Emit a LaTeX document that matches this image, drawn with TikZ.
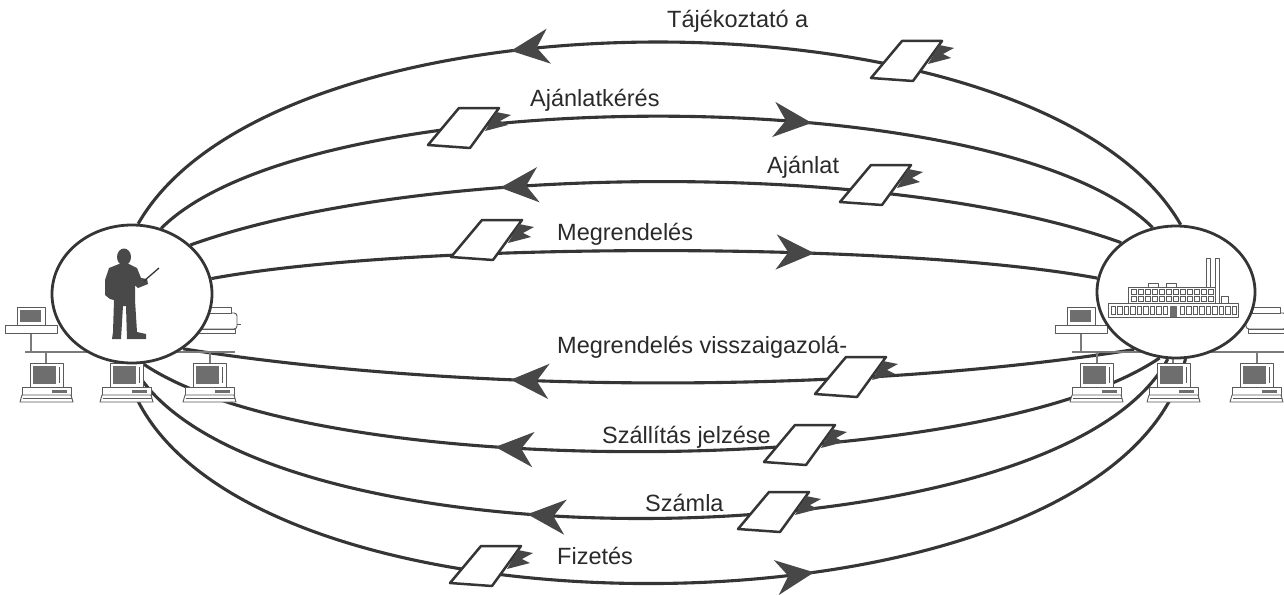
\documentclass[tikz,border=0pt]{standalone}
\usepackage{fontspec}
\setmainfont{Liberation Sans}
\usetikzlibrary{arrows.meta,decorations.markings,shapes.geometric}
\definecolor{ink}{HTML}{353535}
\definecolor{tipgray}{HTML}{474747}
\definecolor{scr}{HTML}{6E6E6E}
\definecolor{dev}{HTML}{5A5A5A}
\definecolor{txt}{HTML}{2A2A2A}
\pgfdeclarelayer{paper}
\pgfdeclarelayer{curves}
\pgfdeclarelayer{desks}
\pgfsetlayers{paper,curves,desks,main}

\tikzset{
  flow/.style={draw=ink, line width=3.1pt},
  tipback/.style={postaction=decorate, decoration={markings, mark=at position #1 with {\arrowreversed{Stealth[length=38pt,width=35pt,inset=12pt,color=tipgray,fill=tipgray]}}}},
  tipfwd/.style={postaction=decorate, decoration={markings, mark=at position #1 with {\arrow{Stealth[length=38pt,width=35pt,inset=12pt,color=tipgray,fill=tipgray]}}}},
  hub/.style={ellipse, draw=ink, line width=2.8pt, fill=white, minimum width=160pt, minimum height=138pt, inner sep=0pt},
  lbl/.style={anchor=base west, inner sep=0pt, text=txt, font=\fontsize{23.5}{28}\selectfont},
  hw/.style={draw=dev, line width=0.9pt, fill=white, line join=round},
  bus/.style={draw=dev!80, line width=1.4pt},
  sheet/.pic={
    \draw[ink, line width=2.5pt, fill=white, line join=round] (-5,-19) -- (35,-19) -- (6,21) -- (-36,18) -- cycle;
    \fill[tipgray] (32,-15) -- (47,-12) -- (36,-6) -- (44,-2) -- (21,4) -- cycle;
  },
  pcbig/.pic={
    \draw[hw] (-8,24) rectangle (41,32);
    \fill[scr] (22,27) rectangle (37,30);
    \draw[hw] (-8,32) -- (41,32) -- (43,39) -- (-10,39) -- cycle;
    \draw[dev, line width=0.6pt] (-7,35.5) -- (42,35.5);
    \draw[hw] (0,0) rectangle (33,24);
    \fill[scr] (3,3) rectangle (26,21);
    \draw[dev, line width=0.6pt] (29,4) -- (29,20);
  },
  pcsmall/.pic={
    \draw[hw] (-12,18) -- (40,18) -- (40,26) -- (-12,26) -- cycle;
    \draw[hw] (0,0) rectangle (28,18);
    \fill[scr] (3,3) rectangle (24,15);
  },
  printer/.pic={
    \draw[hw, rounded corners=3pt] (0,6) rectangle (40,22);
    \draw[hw] (6,0) rectangle (34,6);
    \draw[hw] (2,22) rectangle (38,26);
    \draw[dev, line width=0.8pt] (40,17) -- (44,17);
  },
}

\begin{document}
\begin{tikzpicture}[x=1pt,y=-1pt]
\begin{pgfonlayer}{paper}
  \fill[white] (0,0) rectangle (1284,594);
\end{pgfonlayer}
\useasboundingbox (0,0) rectangle (1284,594);

% the two partners
\node[hub] (L) at (132,294) {};
\node[hub, minimum width=158pt, minimum height=132pt] (R) at (1176,292) {};

% message flows between buyer and supplier
\begin{pgfonlayer}{curves}
  \draw[flow, tipback=0.37] (L.85) .. controls +(139,-243) and +(-139,-243) .. (R.86);
  \draw[flow, tipfwd=0.65] (L.66) .. controls +(149,-149) and +(-149,-149) .. (R.110);
  \draw[flow, tipback=0.335] (L.40) .. controls +(231,-83) and +(-231,-83) .. (R.138);
  \draw[flow, tipfwd=0.68] (L.11) .. controls +(200,-37) and +(-200,-37) .. (R.170);
  \draw[flow, tipback=0.345] (L.-47) .. controls +(285,45) and +(-285,45) .. (R.-126);
  \draw[flow, tipback=0.35] (L.-81) .. controls +(178,121) and +(-178,121) .. (R.-104);
  \draw[flow, tipback=0.39] (L.-90) .. controls +(111,209) and +(-111,209) .. (R.-97);
  \draw[flow, tipfwd=0.63] (L.-96) .. controls +(66,296) and +(-66,296) .. (R.-82);
\end{pgfonlayer}

% local networks on both sides
\begin{pgfonlayer}{desks}
  \draw[bus] (25,352) -- (235,352);
  \draw[bus] (31,333) -- (31,352);
  \draw[bus] (46,352) -- (46,363);
  \draw[bus] (127,352) -- (127,363);
  \draw[bus] (210,352) -- (210,363);
  \pic at (17,307) {pcsmall};
  \pic at (197,307) {printer};
  \pic at (30,363) {pcbig};
  \pic at (110,363) {pcbig};
  \pic at (193,363) {pcbig};

  \draw[bus] (1072,352) -- (1284,352);
  \draw[bus] (1081,333) -- (1081,352);
  \draw[bus] (1097,352) -- (1097,363);
  \draw[bus] (1173,352) -- (1173,363);
  \draw[bus] (1257,352) -- (1257,363);
  \pic at (1067,307) {pcsmall};
  \pic at (1246,307) {printer};
  \pic at (1080,363) {pcbig};
  \pic at (1157,363) {pcbig};
  \pic at (1240,363) {pcbig};
\end{pgfonlayer}

% buyer: man with pointer
\fill[ink!90] (124,257) ellipse [x radius=7, y radius=8.5];
\fill[ink!90] (119,264) -- (129,264) -- (137,268) -- (141,278) -- (147,279) -- (148,284)
  -- (138,288) -- (135,285) -- (135,300) -- (137,332) -- (146,334) -- (146,339)
  -- (127,339) -- (126,306) -- (123,306) -- (121,339) -- (112,339) -- (113,332)
  -- (114,300) -- (110,299) -- (105,295) -- (105,280) -- (109,268) -- cycle;
\draw[ink, line width=1.3pt] (144,281) -- (159,268);

% supplier: factory
\draw[hw] (1206,258) rectangle (1210,290);
\draw[hw] (1215,258) rectangle (1219,303);
\draw[hw] (1148,283) rectangle (1158,287);
\draw[hw] (1166,283) rectangle (1176,287);
\draw[hw] (1128,287) rectangle (1215,303);
\draw[hw] (1221,296) rectangle (1228,303);
\draw[hw] (1108,303) rectangle (1238,317);
\foreach \i in {0,...,11} {
  \draw[dev, line width=0.6pt] (1131+7*\i,289.5) rectangle +(5,5);
  \draw[dev, line width=0.6pt] (1131+7*\i,296) rectangle +(5,5);
}
\foreach \i in {0,...,8} \draw[dev, line width=0.6pt] (1111+6.5*\i,306) rectangle +(4.5,8);
\foreach \i in {0,...,8} \draw[dev, line width=0.6pt] (1180+6.5*\i,306) rectangle +(4.5,8);
\fill[scr] (1170,306) rectangle (1177,317);

% documents travelling along the flows
\pic at (907,60) {sheet};
\pic at (464,127) {sheet};
\pic at (876,184) {sheet};
\pic at (487,239) {sheet};
\pic at (851,376) {sheet};
\pic at (800,444) {sheet};
\pic at (774,511) {sheet};
\pic at (486,565) {sheet};

% message names
\node[lbl] (t1) at (667,28) {Tájékoztató a};
\node[lbl] (t2) at (530,106) {Ajánlatkérés};
\node[lbl] (t3) at (767,173) {Ajánlat};
\node[lbl] (t4) at (557,240) {Megrendelés};
\node[lbl] (t5) at (557,353) {Megrendelés visszaigazolá-};
\node[lbl] (t6) at (602,443) {Szállítás jelzése};
\node[lbl] (t7) at (645,511) {Számla};
\node[lbl] (t8) at (557,564) {Fizetés};
\end{tikzpicture}
\end{document}
